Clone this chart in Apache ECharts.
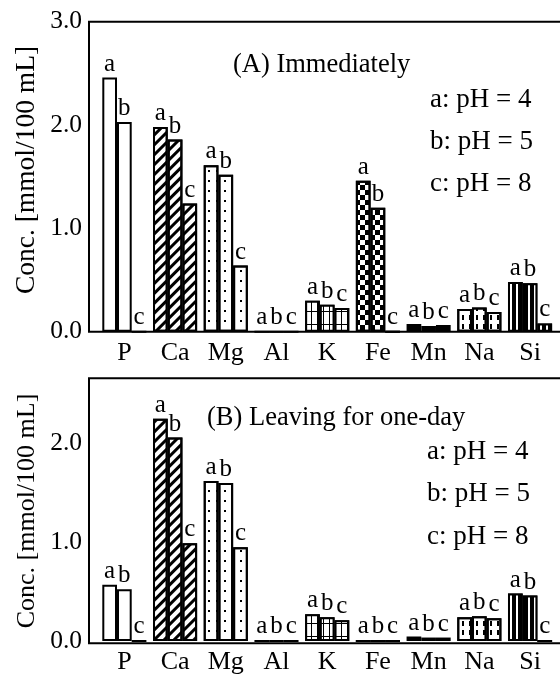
<!DOCTYPE html>
<html>
<head>
<meta charset="utf-8">
<script src="https://cdn.jsdelivr.net/npm/echarts@6/dist/echarts.min.js"></script>
<style>
  html, body { margin: 0; padding: 0; background: #fff; }
  #chart { width: 560px; height: 675px; }
</style>
</head>
<body>
<div id="chart"></div>
<script>
// Elements measured in the extracts
const categories = ['P', 'Ca', 'Mg', 'Al', 'K', 'Fe', 'Mn', 'Na', 'Si'];
const seriesNames = ['a', 'b', 'c'];

// (A) Immediately  [mmol/100 mL]
const immediatePH4 = [2.46, 1.98, 1.61, 0, 0.30, 1.46, 0.075, 0.22, 0.48];
const immediatePH5 = [2.03, 1.86, 1.52, 0, 0.26, 1.20, 0.055, 0.235, 0.47];
const immediatePH8 = [0, 1.24, 0.64, 0, 0.23, 0, 0.065, 0.19, 0.08];

// (B) Leaving for one-day  [mmol/100 mL]
const oneDayPH4 = [0.57, 2.25, 1.62, 0, 0.27, 0, 0.045, 0.24, 0.48];
const oneDayPH5 = [0.525, 2.06, 1.60, 0, 0.24, 0, 0.035, 0.25, 0.46];
const oneDayPH8 = [0, 0.99, 0.95, 0, 0.21, 0, 0.035, 0.23, 0];

const panelTitles = ['(A) Immediately', '(B) Leaving for one-day'];
const legendLines = ['a: pH = 4', 'b: pH = 5', 'c: pH = 8'];
const yAxisName = 'Conc. [mmol/100 mL]';

const FONT = 'Liberation Serif, Times New Roman, serif';
const INK = '#000';

// Fill pattern for each element's bars
const elementStyles = {
  P:  { color: '#fff' },
  Ca: { color: '#fff', decal: { symbol: 'rect', symbolSize: 1, color: INK, dashArrayX: [1, 0], dashArrayY: [2.8, 3.8], rotation: -Math.PI / 4 } },
  Mg: { color: '#fff', decal: { symbol: 'rect', symbolSize: 1, color: INK, dashArrayX: [1.4, 5.5], dashArrayY: [1.4, 7.5] } },
  Al: { color: '#fff' },
  K:  { color: '#fff', decal: { symbol: 'rect', symbolSize: 1, color: '#fff', backgroundColor: INK, dashArrayX: [4.6, 1], dashArrayY: [12, 1] } },
  Fe: { color: '#fff', decal: { symbol: 'rect', symbolSize: 1, color: INK, dashArrayX: [[5, 5], [0, 5, 5, 0]], dashArrayY: [5, 0] } },
  Mn: { color: INK },
  Na: { color: '#fff', decal: { symbol: 'rect', symbolSize: 1, color: INK, dashArrayX: [1.3, 4.3], dashArrayY: [5, 4] } },
  Si: { color: INK, decal: { symbol: 'rect', symbolSize: 1, color: '#fff', dashArrayX: [1.2, 3.6], dashArrayY: [1, 0] } }
};

const panels = [
  { values: [immediatePH4, immediatePH5, immediatePH8], top: 21.7, height: 310, max: 3.0 },
  { values: [oneDayPH4, oneDayPH5, oneDayPH8], top: 378.3, height: 265, max: 2.66 }
];

const PLOT_LEFT = 99;
const FRAME_LEFT = 89;

const grids = panels.map(p => ({ left: PLOT_LEFT, right: 4.6, top: p.top, height: p.height }));

const xAxes = panels.map((p, k) => ({
  type: 'category',
  gridIndex: k,
  data: categories,
  axisLine: { show: false },
  axisTick: { show: false },
  axisLabel: { color: INK, fontFamily: FONT, fontSize: 26, margin: 8 }
}));

const yAxes = panels.map((p, k) => ({
  type: 'value',
  gridIndex: k,
  min: 0,
  max: p.max,
  interval: 1,
  offset: PLOT_LEFT - FRAME_LEFT,
  axisLine: { show: false },
  axisTick: { show: false },
  splitLine: { show: false },
  axisLabel: {
    color: INK, fontFamily: FONT, fontSize: 25.5, margin: 7,
    showMaxLabel: k === 0,
    formatter: v => v.toFixed(1)
  }
}));

const series = [];
panels.forEach((p, k) => {
  p.values.forEach((vals, s) => {
    series.push({
      type: 'bar',
      name: seriesNames[s],
      xAxisIndex: k,
      yAxisIndex: k,
      barWidth: 14.7,
      barGap: '0%',
      animation: false,
      itemStyle: { borderColor: INK, borderWidth: 2 },
      label: {
        show: true, position: 'top', distance: 1,
        formatter: '{a}', color: INK, fontFamily: FONT, fontSize: 25
      },
      data: vals.map((v, i) => ({ value: v, itemStyle: Object.assign({}, elementStyles[categories[i]]) }))
    });
  });
});

// Panel frames, titles, condition key and axis captions
const textBlocks = [
  { title: [233, 65], key: [430, [100, 142, 184]], name: [27, 170], nameSize: 27.5 },
  { title: [207, 418], key: [427, [452, 494, 537]], name: [27, 511], nameSize: 26 }
];

const graphic = [];
panels.forEach((p, k) => {
  const t = textBlocks[k];
  graphic.push({
    type: 'rect', z: 100, silent: true,
    shape: { x: FRAME_LEFT, y: p.top, width: 500, height: p.height },
    style: { fill: null, stroke: INK, lineWidth: 2 }
  });
  graphic.push({
    type: 'text', z: 100, x: t.title[0], y: t.title[1],
    style: { text: panelTitles[k], fill: INK, font: '26.5px ' + FONT, textAlign: 'left', textVerticalAlign: 'middle' }
  });
  legendLines.forEach((line, j) => {
    graphic.push({
      type: 'text', z: 100, x: t.key[0], y: t.key[1][j],
      style: { text: line, fill: INK, font: '27px ' + FONT, textAlign: 'left', textVerticalAlign: 'middle' }
    });
  });
  graphic.push({
    type: 'text', z: 100, x: t.name[0], y: t.name[1], rotation: Math.PI / 2,
    style: { text: yAxisName, fill: INK, font: t.nameSize + 'px ' + FONT, textAlign: 'center', textVerticalAlign: 'middle' }
  });
});

const chart = echarts.init(document.getElementById('chart'), null, { renderer: 'canvas' });
chart.setOption({
  backgroundColor: '#fff',
  animation: false,
  grid: grids,
  xAxis: xAxes,
  yAxis: yAxes,
  series: series,
  graphic: graphic
});
</script>
</body>
</html>
